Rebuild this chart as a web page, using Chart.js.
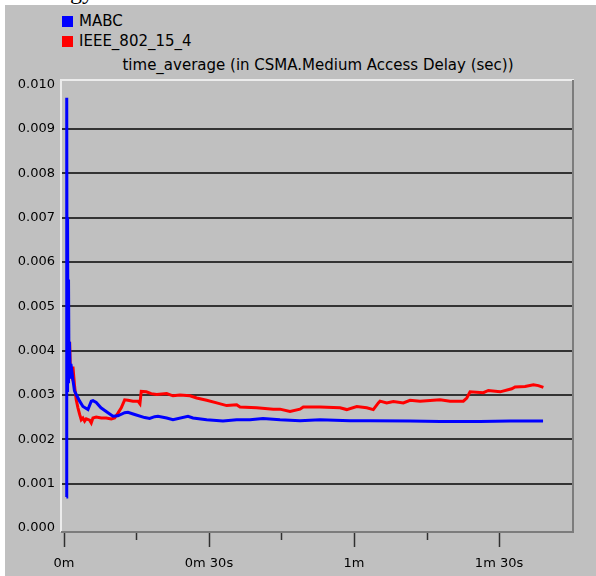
<!DOCTYPE html>
<html lang="en">
<head>
    <meta charset="UTF-8">
    <title>time_average (in CSMA.Medium Access Delay (sec))</title>
    <style>
        body {
            margin: 0;
            padding: 0;
            background: #fff;
            font-family: "DejaVu Sans", sans-serif;
        }
        #wrap {
            position: relative;
            width: 596px;
            height: 576px;
            overflow: hidden;
        }
        #clip {
            position: absolute;
            left: 60px;
            top: 0;
            width: 60px;
            height: 5px;
            overflow: hidden;
        }
        #clip span {
            position: absolute;
            left: 10px;
            top: -21px;
            font: 24px/24px "Liberation Serif", serif;
            color: #000;
        }
        #panel {
            position: absolute;
            left: 5px;
            top: 5px;
            width: 591px;
            height: 571px;
            background: #c0c0c0;
        }
        .key {
            position: absolute;
            left: 79px;
            font-size: 15px;
            line-height: 17px;
            color: #000;
        }
        .key i {
            position: absolute;
            left: -17px;
            top: 3px;
            width: 11px;
            height: 11px;
        }
        #title {
            position: absolute;
            left: 62px;
            width: 512px;
            top: 56px;
            text-align: center;
            font-size: 15px;
            line-height: 18px;
            color: #000;
        }
        canvas {
            position: absolute;
            left: 0;
            top: 0;
        }
    </style>
</head>
<body>
    <div id="wrap">
        <div id="clip"><span>gy</span></div>
        <div id="panel"></div>
        <div class="key" style="top:13px"><i style="background:#0000ff"></i>MABC</div>
        <div class="key" style="top:33px"><i style="background:#ff0000"></i>IEEE_802_15_4</div>
        <div id="title">time_average (in CSMA.Medium Access Delay (sec))</div>
        <canvas id="delayChart" width="596" height="576"></canvas>
    </div>
    <script src="https://cdn.jsdelivr.net/npm/chart.js@4.4.1/dist/chart.umd.min.js"></script>
    <script>
        // simulation time in seconds, delay in seconds
        const mabcTime = [0.50, 0.58, 0.66, 0.75, 0.85, 0.95, 1.05, 1.15, 1.30, 1.45, 1.86, 2.17, 2.54, 3.25, 3.93,
            4.97, 5.65, 6.00, 6.68, 7.66, 9.10, 10.14, 11.17, 12.56, 13.24, 14.63, 16.70, 17.73, 18.77, 19.45,
            21.25, 22.55, 25.66, 26.69, 29.52, 32.89, 35.73, 38.48, 41.17, 44.69, 48.83, 52.97, 56.07, 59.17,
            63.31, 71.59, 77.79, 86.07, 92.28, 99.10];
        const mabcDelay = [0.0007, 0.0097, 0.0031, 0.0070, 0.0033, 0.0056, 0.0035, 0.0042, 0.0034, 0.0037, 0.00334,
            0.0031, 0.00301, 0.00286, 0.00274, 0.00267, 0.00286, 0.00287, 0.00283, 0.00271, 0.00260, 0.00252,
            0.00253, 0.00260, 0.00261, 0.00256, 0.00249, 0.00247, 0.00251, 0.00252, 0.00248, 0.00244, 0.00252,
            0.00248, 0.00244, 0.00241, 0.00244, 0.00244, 0.00247, 0.00244, 0.00242, 0.00244, 0.00243, 0.00242,
            0.00242, 0.00241, 0.00240, 0.00240, 0.00241, 0.00241];

        const ieeeTime = [0.89, 0.95, 1.18, 1.34, 1.66, 1.86, 2.21, 2.54, 2.90, 3.25, 3.58, 3.93, 4.28, 4.61, 5.32,
            5.65, 6.00, 6.68, 7.72, 8.75, 9.79, 10.49, 11.17, 11.86, 12.56, 13.24, 14.28, 15.31, 15.72, 15.99,
            17.03, 18.06, 19.18, 21.25, 22.55, 24.00, 26.07, 27.46, 29.52, 31.59, 33.66, 35.73, 36.41, 39.87,
            43.30, 44.69, 46.76, 48.83, 49.51, 52.97, 57.10, 58.49, 60.56, 62.63, 63.99, 65.03, 65.38, 66.76,
            68.13, 70.20, 71.59, 73.66, 77.79, 79.86, 82.61, 83.32, 84.00, 86.75, 87.79, 90.21, 92.63, 93.31,
            95.38, 97.10, 98.13, 99.17];
        const ieeeDelay = [0.0042, 0.0037, 0.0042, 0.0035, 0.0034, 0.00364, 0.00319, 0.00289, 0.00271, 0.00256,
            0.00244, 0.00248, 0.00241, 0.00246, 0.00243, 0.00237, 0.00248, 0.00250, 0.00248, 0.00248, 0.00246,
            0.00248, 0.00259, 0.00271, 0.00289, 0.00288, 0.00286, 0.00286, 0.00280, 0.00308, 0.00307, 0.00303,
            0.00301, 0.00303, 0.00298, 0.00300, 0.00298, 0.00293, 0.00288, 0.00282, 0.00276, 0.00278, 0.00273,
            0.00271, 0.00268, 0.00268, 0.00263, 0.00268, 0.00273, 0.00273, 0.00271, 0.00267, 0.00274, 0.00271,
            0.00267, 0.00282, 0.00286, 0.00282, 0.00285, 0.00282, 0.00288, 0.00286, 0.00289, 0.00286, 0.00286,
            0.00293, 0.00307, 0.00305, 0.00310, 0.00307, 0.00314, 0.00318, 0.00319, 0.00323, 0.00321, 0.00317];

        const yTicks = [0, 0.001, 0.002, 0.003, 0.004, 0.005, 0.006, 0.007, 0.008, 0.009, 0.010];
        const xMajorTicks = [0, 30, 60, 90];
        const xTickLabels = ['0m', '0m 30s', '1m', '1m 30s'];
        const xMinorTicks = [15, 45, 75];

        const toPoints = (times, values) => times.map((t, i) => ({ x: t, y: values[i] }));

        // frame around the plot plus the long/short tick marks under the time axis
        const frameAndTicks = {
            id: 'frameAndTicks',
            afterDraw(chart) {
                const c = chart.ctx;
                const a = chart.chartArea;
                const xs = chart.scales.x;
                c.save();
                c.lineWidth = 2;
                c.strokeStyle = '#ececec';
                c.beginPath();
                c.moveTo(a.left - 1, a.bottom);
                c.lineTo(a.left - 1, a.top);
                c.lineTo(a.right, a.top);
                c.stroke();
                c.strokeStyle = '#7c7c7c';
                c.beginPath();
                c.moveTo(a.right - 1, a.top);
                c.lineTo(a.right - 1, a.bottom);
                c.lineTo(a.left - 1, a.bottom);
                c.stroke();
                c.strokeStyle = '#303030';
                c.lineWidth = 1.5;
                xMajorTicks.forEach(v => {
                    const px = Math.round(xs.getPixelForValue(v)) + 0.5;
                    c.beginPath();
                    c.moveTo(px, a.bottom + 1);
                    c.lineTo(px, a.bottom + 15);
                    c.stroke();
                });
                xMinorTicks.forEach(v => {
                    const px = Math.round(xs.getPixelForValue(v)) + 0.5;
                    c.beginPath();
                    c.moveTo(px, a.bottom + 1);
                    c.lineTo(px, a.bottom + 8);
                    c.stroke();
                });
                c.restore();
            }
        };

        const ctx = document.getElementById('delayChart').getContext('2d');
        new Chart(ctx, {
            type: 'line',
            data: {
                datasets: [{
                    label: 'MABC',
                    data: toPoints(mabcTime, mabcDelay),
                    borderColor: '#0000ff',
                    borderWidth: 3,
                    pointRadius: 0,
                    tension: 0
                }, {
                    label: 'IEEE_802_15_4',
                    data: toPoints(ieeeTime, ieeeDelay),
                    borderColor: '#ff0000',
                    borderWidth: 3,
                    pointRadius: 0,
                    tension: 0
                }]
            },
            options: {
                responsive: false,
                animation: false,
                layout: { padding: { top: 80, right: 22, left: 0, bottom: 0 } },
                plugins: {
                    legend: { display: false },
                    tooltip: { enabled: false }
                },
                scales: {
                    x: {
                        type: 'linear',
                        min: -0.4,
                        max: 105.5,
                        afterBuildTicks: s => { s.ticks = xMajorTicks.map(v => ({ value: v })); },
                        afterFit: s => { s.height = 44; },
                        grid: { display: false },
                        border: { display: false },
                        ticks: {
                            padding: 16,
                            maxRotation: 0,
                            autoSkip: false,
                            color: '#000',
                            font: { family: 'DejaVu Sans', size: 13 },
                            callback: v => xTickLabels[xMajorTicks.indexOf(v)]
                        }
                    },
                    y: {
                        min: -0.00009,
                        max: 0.0101,
                        afterBuildTicks: s => { s.ticks = yTicks.map(v => ({ value: v })); },
                        afterFit: s => { s.width = 62; },
                        grid: {
                            color: c => (c.index > 0 && c.index < yTicks.length - 1) ? '#333333' : 'rgba(0,0,0,0)',
                            lineWidth: 2,
                            drawTicks: false
                        },
                        border: { display: false },
                        ticks: {
                            padding: 7,
                            color: '#000',
                            font: { family: 'DejaVu Sans', size: 13 },
                            callback: v => v.toFixed(3)
                        }
                    }
                }
            },
            plugins: [frameAndTicks]
        });
    </script>
</body>
</html>
